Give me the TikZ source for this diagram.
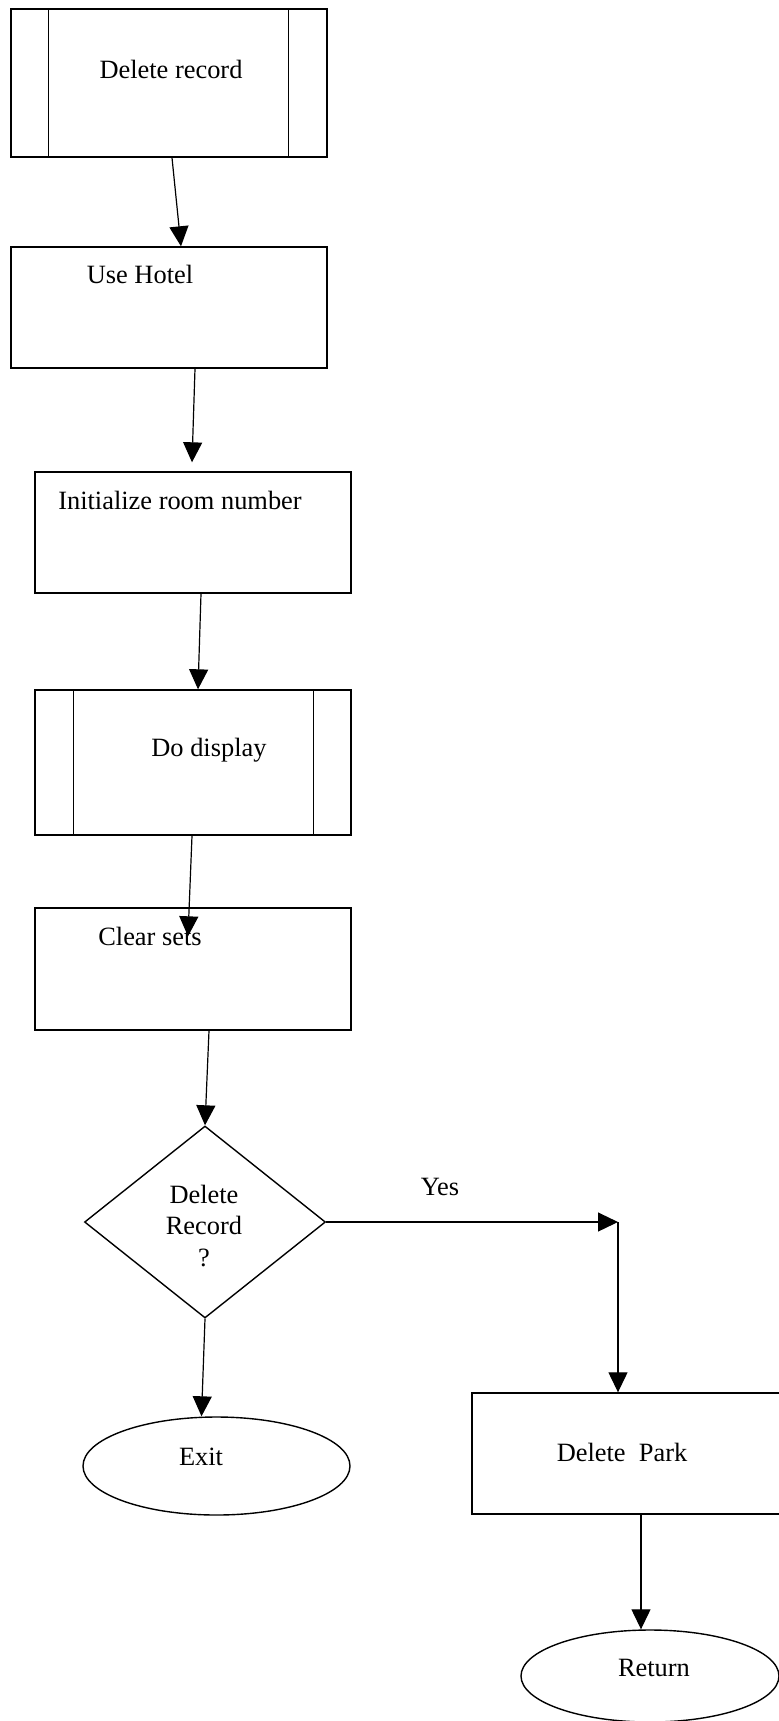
\documentclass[tikz,border=0pt]{standalone}
\usepackage{fontspec}
\setmainfont{Liberation Serif}
\usetikzlibrary{shapes.geometric,arrows.meta}
\begin{document}
\begin{tikzpicture}[x=0.5pt,y=-0.5pt,
  box/.style={draw, rectangle, line width=0.7pt, inner sep=0pt, minimum width=158pt},
  oval/.style={draw, ellipse, line width=0.7pt, inner sep=0pt},
  decision/.style={draw, diamond, line width=0.7pt, inner sep=0pt},
  txt/.style={inner sep=0pt, font=\fontsize{13.2}{15.6}\selectfont, align=center},
  arr/.style={-{Triangle[length=10pt,width=9.5pt]}, line width=0.6pt},
  side/.style={line width=0.7pt}]
\useasboundingbox (0,0) rectangle (779,1721);

% process boxes
\node[box, minimum height=74pt] (b1) at (169,83) {};
\draw[side] ([xshift=19pt]b1.north west) -- ([xshift=19pt]b1.south west);
\draw[side] ([xshift=-19.5pt]b1.north east) -- ([xshift=-19.5pt]b1.south east);
\node[txt] (t1) at (171,69) {Delete record};

\node[box, minimum height=60.5pt] (b2) at (169,307.5) {};
\node[txt] (t2) at (140,274) {Use Hotel};

\node[box, minimum height=60.5pt] (b3) at (193,532.5) {};
\node[txt] (t3) at (180,500) {Initialize room number};

\node[box, minimum height=72.5pt] (b4) at (193,762.5) {};
\draw[side] ([xshift=19.5pt]b4.north west) -- ([xshift=19.5pt]b4.south west);
\draw[side] ([xshift=-19pt]b4.north east) -- ([xshift=-19pt]b4.south east);
\node[txt] (t4) at (209,750) {Do display};

\node[box, minimum height=61pt] (b5) at (193,969) {};
\node[txt] (t5) at (150,936) {Clear sets};

% decision
\node[decision, minimum width=120.5pt, minimum height=96pt] (d) at (205,1222) {};
\node[txt] (td) at (204,1226) {Delete\\Record\\?};
\node[txt] (yes) at (440,1187) {Yes};
\coordinate (yc) at (618,1222);

% terminals and branch box
\node[oval, minimum width=133.5pt, minimum height=49pt] (exit) at (216.5,1466) {};
\node[txt] (te) at (201,1457) {Exit};

\node[box, minimum width=159pt, minimum height=60.5pt] (park) at (631,1453.5) {};
\node[txt] (tp) at (622,1452) {Delete~ Park};

\node[oval, minimum width=129pt, minimum height=46pt] (ret) at (650,1676) {};
\node[txt] (tr) at (654,1668) {Return};

% connectors
\draw[arr] ([xshift=1.5pt]b1.south) -- ([xshift=6pt]b2.north);
\draw[arr] ([xshift=13pt]b2.south) -- ([xshift=-0.5pt,yshift=4.5pt]b3.north);
\draw[arr] ([xshift=4pt]b3.south) -- ([xshift=2.5pt]b4.north);
\draw[arr] ([xshift=-0.5pt]b4.south) -- ([xshift=-2.5pt,yshift=-14.5pt]b5.north);
\draw[arr] ([xshift=8pt]b5.south) -- (d.north);
\draw[arr] (d.south) -- ([xshift=-7.5pt]exit.north);
\draw[arr] (d.east) -- (yc);
\draw[arr] (yc) -- ([xshift=-6.5pt]park.north);
\draw[arr] ([xshift=5pt]park.south) -- ([xshift=-4.5pt]ret.north);
\end{tikzpicture}
\end{document}
